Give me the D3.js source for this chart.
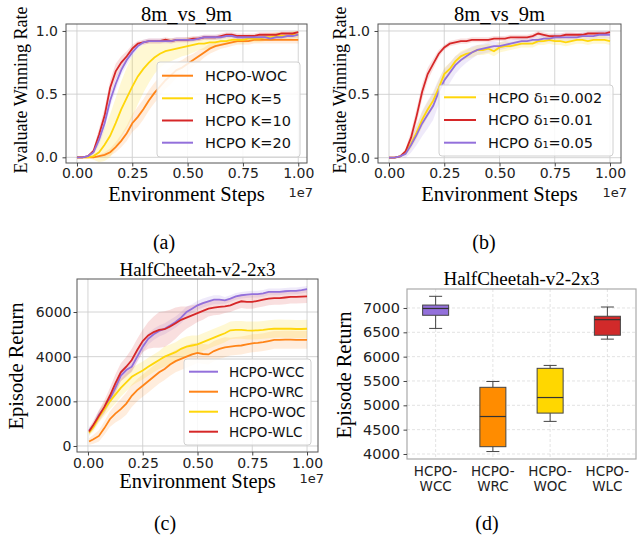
<!DOCTYPE html>
<html>
<head>
<meta charset="utf-8">
<script src="https://cdn.jsdelivr.net/npm/d3@7"></script>
<style>
  body { margin: 0; background: #fff; }
</style>
</head>
<body>
<div id="chart"></div>
<script>
// x grid (in units of 1e7 environment steps)
const stepsAB = [0,0.025,0.05,0.075,0.1,0.125,0.15,0.175,0.2,0.225,0.25,0.275,0.3,0.325,0.35,0.375,0.4,0.425,0.45,0.475,
  0.5,0.525,0.55,0.575,0.6,0.625,0.65,0.675,0.7,0.725,0.75,0.775,0.8,0.825,0.85,0.875,0.9,0.925,0.95,0.975,1.0]
const stepsC = [0.005,0.025,0.05,0.075,0.1,0.125,0.15,0.175,0.2,0.225,0.25,0.275,0.3,0.325,0.35,0.375,0.4,0.425,0.45,0.475,
  0.5,0.525,0.55,0.575,0.6,0.625,0.65,0.675,0.7,0.725,0.75,0.775,0.8,0.825,0.85,0.875,0.9,0.925,0.95,0.975,1.0]

// (a) 8m_vs_9m, number of K
const wocA = [0,0,0,0,0.01, 0.02,0.04,0.08,0.13,0.19, 0.27,0.32,0.38,0.45,0.51, 0.56,0.61,0.65,0.69,0.71,
  0.74,0.77,0.8,0.83,0.86, 0.88,0.89,0.9,0.91,0.92, 0.92,0.92,0.93,0.93,0.93, 0.93,0.93,0.93,0.93,0.93, 0.93]
const k5A = [0,0,0,0.01,0.04, 0.1,0.17,0.27,0.38,0.47, 0.56,0.64,0.7,0.75,0.79, 0.82,0.84,0.85,0.86,0.87,
  0.88,0.89,0.9,0.9,0.91, 0.91,0.92,0.92,0.93,0.93, 0.93,0.94,0.94,0.94,0.95, 0.95,0.96,0.96,0.96,0.97, 0.97]
const k10A = [0,0,0.01,0.05,0.18, 0.33,0.55,0.68,0.75,0.8, 0.86,0.9,0.91,0.92,0.92, 0.92,0.93,0.92,0.93,0.93,
  0.93,0.94,0.94,0.95,0.95, 0.95,0.96,0.97,0.97,0.96, 0.96,0.96,0.96,0.97,0.97, 0.97,0.97,0.98,0.98,0.98, 0.99]
const k20A = [0,0,0.01,0.04,0.14, 0.27,0.45,0.58,0.69,0.77, 0.83,0.88,0.91,0.92,0.92, 0.92,0.92,0.92,0.93,0.93,
  0.93,0.93,0.94,0.95,0.95, 0.95,0.95,0.96,0.96,0.95, 0.95,0.95,0.95,0.95,0.95, 0.94,0.95,0.95,0.96,0.96, 0.97]
const wocA_sd = [0,0,0,0,0.01, 0.02,0.03,0.04,0.05,0.06, 0.07,0.08,0.08,0.08,0.08, 0.08,0.07,0.07,0.06,0.06,
  0.06,0.05,0.05,0.04,0.04, 0.04,0.03,0.03,0.03,0.03, 0.03,0.03,0.03,0.03,0.03, 0.03,0.03,0.03,0.03,0.03, 0.03]
const k5A_sd = [0,0,0.005,0.03,0.08, 0.13,0.17,0.2,0.22,0.24, 0.24,0.22,0.19,0.16,0.13, 0.11,0.1,0.09,0.08,0.07,
  0.07,0.06,0.05,0.05,0.04, 0.04,0.04,0.03,0.03,0.03, 0.03,0.03,0.03,0.03,0.03, 0.03,0.03,0.03,0.03,0.03, 0.03]
const k10A_sd = [0,0,0.005,0.02,0.05, 0.06,0.06,0.06,0.05,0.04, 0.03,0.02,0.02,0.02,0.02, 0.02,0.02,0.02,0.02,0.02,
  0.02,0.02,0.02,0.02,0.02, 0.02,0.02,0.02,0.02,0.02, 0.02,0.02,0.02,0.02,0.02, 0.02,0.02,0.015,0.015,0.015, 0.01]
const k20A_sd = [0,0,0.005,0.02,0.04, 0.05,0.05,0.05,0.04,0.04, 0.03,0.02,0.02,0.02,0.02, 0.02,0.02,0.02,0.02,0.02,
  0.02,0.02,0.02,0.02,0.02, 0.02,0.02,0.02,0.02,0.02, 0.02,0.02,0.02,0.02,0.02, 0.02,0.02,0.02,0.02,0.02, 0.02]

// (b) 8m_vs_9m, delta_1
const d002B = [0,0,0.01,0.04,0.11, 0.2,0.3,0.38,0.45,0.55, 0.66,0.7,0.76,0.8,0.82, 0.83,0.85,0.85,0.86,0.84,
  0.87,0.88,0.88,0.89,0.9, 0.9,0.9,0.92,0.92,0.93, 0.92,0.92,0.91,0.92,0.93, 0.93,0.92,0.93,0.93,0.93, 0.92]
const d01B = [0,0,0.01,0.05,0.16, 0.33,0.52,0.66,0.74,0.82, 0.87,0.9,0.91,0.92,0.92, 0.93,0.93,0.93,0.93,0.94,
  0.94,0.94,0.95,0.95,0.95, 0.95,0.96,0.98,0.97,0.96, 0.96,0.96,0.97,0.97,0.97, 0.97,0.98,0.98,0.98,0.98, 0.99]
const d05B = [0,0,0.01,0.03,0.1, 0.18,0.27,0.34,0.41,0.52, 0.61,0.67,0.73,0.77,0.8, 0.83,0.85,0.86,0.87,0.88,
  0.88,0.89,0.9,0.91,0.92, 0.92,0.93,0.93,0.94,0.94, 0.95,0.95,0.95,0.95,0.95, 0.96,0.96,0.96,0.97,0.97, 0.97]
const d002B_sd = [0,0,0.005,0.02,0.04, 0.05,0.06,0.06,0.06,0.06, 0.05,0.05,0.04,0.04,0.04, 0.04,0.04,0.04,0.04,0.04,
  0.04,0.04,0.03,0.03,0.03, 0.03,0.03,0.03,0.03,0.03, 0.03,0.03,0.03,0.03,0.03, 0.03,0.03,0.03,0.03,0.03, 0.03]
const d01B_sd = [0,0,0.005,0.02,0.05, 0.06,0.06,0.05,0.04,0.03, 0.02,0.02,0.02,0.02,0.02, 0.02,0.02,0.02,0.02,0.02,
  0.02,0.02,0.02,0.02,0.02, 0.02,0.02,0.02,0.02,0.02, 0.02,0.02,0.02,0.02,0.015, 0.015,0.015,0.015,0.015,0.015, 0.01]
const d05B_sd = [0,0,0.005,0.03,0.06, 0.08,0.1,0.11,0.11,0.1, 0.09,0.08,0.07,0.06,0.05, 0.05,0.04,0.04,0.04,0.04,
  0.03,0.03,0.03,0.03,0.03, 0.03,0.03,0.03,0.03,0.03, 0.03,0.03,0.03,0.03,0.03, 0.03,0.03,0.03,0.03,0.03, 0.03]

// (c) HalfCheetah-v2-2x3 curves
const wccC = [700,900,1400,1700,2100, 2600,3150,3400,3550,4000, 4450,4800,5000,5150,5250, 5400,5550,5750,6000,6150,
  6300,6400,6480,6550,6550, 6520,6600,6700,6750,6780, 6800,6800,6830,6900,6900, 6900,6930,6950,6950,6980, 7020]
const wrcC = [200,300,450,800,1200, 1450,1650,1900,2250,2500, 2700,2900,3100,3300,3450, 3650,3800,3900,4000,4100,
  4170,4120,4100,4250,4350, 4420,4450,4480,4500,4550, 4600,4620,4650,4700,4750, 4750,4760,4760,4750,4750, 4750]
const wocC = [600,850,1300,1650,2000, 2300,2600,2850,3100,3250, 3380,3550,3700,3850,4000, 4100,4200,4350,4450,4500,
  4550,4650,4750,4850,4950, 5050,5180,5200,5200,5180, 5170,5180,5200,5230,5250, 5260,5250,5250,5240,5240, 5250]
const wlcC = [650,950,1350,1750,2250, 2800,3300,3550,3850,4300, 4700,4950,5100,5200,5230, 5350,5500,5650,5750,5850,
  5950,6050,6150,6200,6230, 6250,6300,6400,6480,6450, 6450,6500,6550,6600,6620, 6620,6650,6680,6680,6690, 6700]
const wccC_sd = [150,150,200,200,200, 250,250,250,250,250, 250,250,250,250,250, 250,250,250,250,200,
  200,200,200,200,200, 150,150,150,150,150, 150,150,150,150,150, 150,150,150,150,150, 150]
const wrcC_sd = [150,200,250,300,350, 400,450,500,500,500, 500,500,500,500,500, 500,500,500,500,500,
  450,450,450,450,450, 450,400,400,400,400, 400,400,400,400,400, 400,400,400,400,400, 400]
const wocC_sd = [150,200,250,300,350, 400,400,400,400,400, 400,400,400,400,450, 450,450,450,450,450,
  400,400,400,400,400, 400,400,400,400,400, 400,400,400,400,400, 400,400,400,400,400, 400]
const wlcC_sd = [150,200,250,300,350, 400,400,450,500,500, 500,600,700,800,800, 750,700,600,500,450,
  400,400,350,350,350, 300,300,300,300,300, 300,300,300,300,300, 300,300,300,300,300, 300]

// (d) final returns box plot
const boxNames = ['WCC', 'WRC', 'WOC', 'WLC']
const boxLow = [6580, 4050, 4670, 6360]
const boxQ1 = [6850, 4150, 4840, 6440]
const boxMed = [6990, 4770, 5160, 6760]
const boxQ3 = [7060, 5370, 5760, 6830]
const boxHigh = [7240, 5490, 5820, 7020]

const ORANGE = '#ff8418', GOLD = '#ffd60a', RED = '#d62728', PURPLE = '#9370db'
const boxColors = [PURPLE, '#ff8c00', '#ffd700', '#d12a2a']

const sans = '"DejaVu Sans", sans-serif'
const serif = '"Liberation Serif", "Times New Roman", serif'

const svg = d3.select('#chart').append('svg')
  .attr('width', 641).attr('height', 539)

function styleTicks(sel, size) {
  sel.select('.domain').remove()
  sel.selectAll('.tick line').attr('stroke', '#444')
  sel.selectAll('.tick text').attr('font-family', sans).attr('font-size', size).attr('fill', '#222')
}

function linePanel(cfg) {
  const x = d3.scaleLinear().domain(cfg.xDomain).range([cfg.left, cfg.right])
  const y = d3.scaleLinear().domain(cfg.yDomain).range([cfg.bottom, cfg.top])
  const g = svg.append('g')

  // grid
  g.append('g').selectAll('line').data(cfg.xTicks).join('line')
    .attr('x1', d => x(d)).attr('x2', d => x(d))
    .attr('y1', cfg.top).attr('y2', cfg.bottom)
    .attr('stroke', '#cfcfcf').attr('stroke-width', 0.9)
  g.append('g').selectAll('line').data(cfg.yTicks).join('line')
    .attr('x1', cfg.left).attr('x2', cfg.right)
    .attr('y1', d => y(d)).attr('y2', d => y(d))
    .attr('stroke', '#cfcfcf').attr('stroke-width', 0.9)

  const clipId = 'clip' + cfg.id
  svg.append('clipPath').attr('id', clipId).append('rect')
    .attr('x', cfg.left).attr('y', cfg.top)
    .attr('width', cfg.right - cfg.left).attr('height', cfg.bottom - cfg.top)

  const plot = g.append('g').attr('clip-path', `url(#${clipId})`)
  cfg.series.forEach(s => {
    const idx = d3.range(s.values.length)
    const area = d3.area()
      .x(i => x(cfg.steps[i]))
      .y0(i => y(s.values[i] - s.sd[i]))
      .y1(i => y(s.values[i] + s.sd[i]))
    plot.append('path').datum(idx)
      .attr('d', area)
      .attr('fill', s.color).attr('fill-opacity', s.bandOpacity || 0.15)
  })
  cfg.series.forEach(s => {
    const idx = d3.range(s.values.length)
    const line = d3.line().x(i => x(cfg.steps[i])).y(i => y(s.values[i]))
    plot.append('path').datum(idx)
      .attr('d', line)
      .attr('fill', 'none').attr('stroke', s.color).attr('stroke-width', 1.8)
  })

  // spines
  g.append('rect')
    .attr('x', cfg.left).attr('y', cfg.top)
    .attr('width', cfg.right - cfg.left).attr('height', cfg.bottom - cfg.top)
    .attr('fill', 'none').attr('stroke', '#555').attr('stroke-width', 1)

  g.append('g').attr('transform', `translate(0,${cfg.bottom})`)
    .call(d3.axisBottom(x).tickValues(cfg.xTicks).tickFormat(d3.format('.2f')).tickSize(3.5).tickPadding(cfg.xPad))
    .call(s => styleTicks(s, 14))
  g.append('g').attr('transform', `translate(${cfg.left},0)`)
    .call(d3.axisLeft(y).tickValues(cfg.yTicks).tickFormat(cfg.yFormat).tickSize(3.5).tickPadding(cfg.yPad))
    .call(s => styleTicks(s, 14))

  const cx = (cfg.left + cfg.right) / 2
  g.append('text').attr('x', cx).attr('y', cfg.titleY)
    .attr('text-anchor', 'middle').attr('font-family', serif).attr('font-size', cfg.titleSize)
    .text(cfg.title)
  g.append('text').attr('x', cx).attr('y', cfg.xLabelY)
    .attr('text-anchor', 'middle').attr('font-family', serif).attr('font-size', cfg.xLabelSize)
    .text('Environment Steps')
  g.append('text').attr('x', cfg.right + 6).attr('y', cfg.offsetY)
    .attr('text-anchor', 'end').attr('font-family', sans).attr('font-size', 13).attr('fill', '#222')
    .text('1e7')
  g.append('text')
    .attr('transform', `translate(${cfg.yLabelX},${cfg.yLabelCY}) rotate(-90)`)
    .attr('text-anchor', 'middle').attr('font-family', serif).attr('font-size', cfg.yLabelSize)
    .text(cfg.yLabel)

  // legend
  const L = cfg.legend
  g.append('rect').attr('x', L.x).attr('y', L.y).attr('width', L.w).attr('height', L.h)
    .attr('rx', 3).attr('fill', 'white').attr('fill-opacity', 0.85)
    .attr('stroke', '#d0d0d0').attr('stroke-width', 1)
  L.items.forEach((s, i) => {
    const ry = L.rows[i]
    g.append('line').attr('x1', L.lx0).attr('x2', L.lx1).attr('y1', ry).attr('y2', ry)
      .attr('stroke', s.color).attr('stroke-width', 2)
    g.append('text').attr('x', L.tx).attr('y', ry).attr('dy', '0.36em')
      .attr('font-family', sans).attr('font-size', L.size).attr('fill', '#111')
      .text(s.label)
  })
}

const ticks01 = [0, 0.25, 0.5, 0.75, 1.0]
const seriesA = [
  {label: 'HCPO-WOC', color: ORANGE, values: wocA, sd: wocA_sd},
  {label: 'HCPO K=5', color: GOLD, values: k5A, sd: k5A_sd, bandOpacity: 0.18},
  {label: 'HCPO K=10', color: RED, values: k10A, sd: k10A_sd},
  {label: 'HCPO K=20', color: PURPLE, values: k20A, sd: k20A_sd}
]
linePanel({
  id: 'a', left: 66, right: 307, top: 24, bottom: 163,
  xDomain: [-0.0495, 1.0395], yDomain: [-0.045, 1.055],
  steps: stepsAB, series: seriesA,
  xTicks: ticks01, yTicks: [0, 0.5, 1.0], yFormat: d3.format('.1f'), xPad: 1.5, yPad: 4.5,
  title: '8m_vs_9m', titleY: 21, titleSize: 20.5,
  xLabelY: 201, xLabelSize: 20.5, offsetY: 197,
  yLabel: 'Evaluate Winning Rate', yLabelX: 27, yLabelCY: 90, yLabelSize: 18,
  legend: {x: 157, y: 62, w: 143, h: 95, rows: [75.7, 98.3, 120.5, 142.7],
    lx0: 162, lx1: 193, tx: 205, size: 14.5, items: seriesA}
})

const seriesB = [
  {label: 'HCPO δ₁=0.002', color: GOLD, values: d002B, sd: d002B_sd, bandOpacity: 0.18},
  {label: 'HCPO δ₁=0.01', color: RED, values: d01B, sd: d01B_sd},
  {label: 'HCPO δ₁=0.05', color: PURPLE, values: d05B, sd: d05B_sd}
]
linePanel({
  id: 'b', left: 378, right: 621, top: 24, bottom: 163,
  xDomain: [-0.0498, 1.0498], yDomain: [-0.042, 1.055],
  steps: stepsAB, series: seriesB,
  xTicks: ticks01, yTicks: [0, 0.5, 1.0], yFormat: d3.format('.1f'), xPad: 1.5, yPad: 4.5,
  title: '8m_vs_9m', titleY: 21, titleSize: 20.5,
  xLabelY: 201, xLabelSize: 20.5, offsetY: 197,
  yLabel: 'Evaluate Winning Rate', yLabelX: 346, yLabelCY: 90, yLabelSize: 18,
  legend: {x: 439, y: 85, w: 174, h: 71, rows: [97.3, 120, 142.7],
    lx0: 444, lx1: 476, tx: 488, size: 14.5, items: seriesB}
})

const seriesC = [
  {label: 'HCPO-WCC', color: PURPLE, values: wccC, sd: wccC_sd},
  {label: 'HCPO-WRC', color: ORANGE, values: wrcC, sd: wrcC_sd},
  {label: 'HCPO-WOC', color: GOLD, values: wocC, sd: wocC_sd, bandOpacity: 0.18},
  {label: 'HCPO-WLC', color: RED, values: wlcC, sd: wlcC_sd}
]
linePanel({
  id: 'c', left: 77, right: 318, top: 279, bottom: 452,
  xDomain: [-0.05, 1.05], yDomain: [-269, 7478],
  steps: stepsC, series: seriesC,
  xTicks: ticks01, yTicks: [0, 2000, 4000, 6000], yFormat: d3.format('d'), xPad: 2.5, yPad: 2,
  title: 'HalfCheetah-v2-2x3', titleY: 276, titleSize: 19,
  xLabelY: 488, xLabelSize: 20.5, offsetY: 483,
  yLabel: 'Episode Return', yLabelX: 23, yLabelCY: 366, yLabelSize: 20.5,
  legend: {x: 184, y: 359, w: 127, h: 86, rows: [371.7, 391.7, 411.7, 431.7],
    lx0: 189, lx1: 218, tx: 229, size: 13.5, items: seriesC}
})

// (d) box plot
{
  const left = 407, right = 636, top = 289, bottom = 459
  const x = d3.scaleBand().domain(boxNames).range([left, right])
  const y = d3.scaleLinear().domain([3897, 7390]).range([bottom, top])
  const yTicks = [4000, 4500, 5000, 5500, 6000, 6500, 7000]
  const g = svg.append('g')

  g.append('g').selectAll('line').data(yTicks).join('line')
    .attr('x1', left).attr('x2', right).attr('y1', d => y(d)).attr('y2', d => y(d))
    .attr('stroke', '#dcdcdc').attr('stroke-dasharray', '3,2').attr('stroke-width', 0.8)
  g.append('g').selectAll('line').data(boxNames).join('line')
    .attr('x1', d => x(d) + x.bandwidth() / 2).attr('x2', d => x(d) + x.bandwidth() / 2)
    .attr('y1', top).attr('y2', bottom)
    .attr('stroke', '#dcdcdc').attr('stroke-dasharray', '3,2').attr('stroke-width', 0.8)

  const bw = 26, cap = 13
  boxNames.forEach((name, i) => {
    const cx = x(name) + x.bandwidth() / 2
    g.append('line').attr('x1', cx).attr('x2', cx).attr('y1', y(boxHigh[i])).attr('y2', y(boxQ3[i]))
      .attr('stroke', '#444').attr('stroke-width', 1)
    g.append('line').attr('x1', cx).attr('x2', cx).attr('y1', y(boxQ1[i])).attr('y2', y(boxLow[i]))
      .attr('stroke', '#444').attr('stroke-width', 1)
    g.append('line').attr('x1', cx - cap / 2).attr('x2', cx + cap / 2).attr('y1', y(boxHigh[i])).attr('y2', y(boxHigh[i]))
      .attr('stroke', '#444').attr('stroke-width', 1)
    g.append('line').attr('x1', cx - cap / 2).attr('x2', cx + cap / 2).attr('y1', y(boxLow[i])).attr('y2', y(boxLow[i]))
      .attr('stroke', '#444').attr('stroke-width', 1)
    g.append('rect').attr('x', cx - bw / 2).attr('width', bw)
      .attr('y', y(boxQ3[i])).attr('height', y(boxQ1[i]) - y(boxQ3[i]))
      .attr('fill', boxColors[i]).attr('stroke', '#444').attr('stroke-width', 1)
    g.append('line').attr('x1', cx - bw / 2).attr('x2', cx + bw / 2).attr('y1', y(boxMed[i])).attr('y2', y(boxMed[i]))
      .attr('stroke', '#333').attr('stroke-width', 1.2)
  })

  g.append('rect').attr('x', left).attr('y', top).attr('width', right - left).attr('height', bottom - top)
    .attr('fill', 'none').attr('stroke', '#aaa').attr('stroke-width', 1.2)

  g.append('g').attr('transform', `translate(${left},0)`)
    .call(d3.axisLeft(y).tickValues(yTicks).tickFormat(d3.format('d')).tickSize(3.5).tickPadding(3.5))
    .call(s => styleTicks(s, 14.5))
  const xa = g.append('g').attr('transform', `translate(0,${bottom})`)
    .call(d3.axisBottom(x).tickSize(0).tickFormat(''))
  xa.select('.domain').remove()
  xa.selectAll('.tick').each(function(d) {
    const t = d3.select(this).append('text').attr('font-family', sans).attr('font-size', 13.5)
      .attr('fill', '#222').attr('text-anchor', 'middle')
    t.append('tspan').attr('x', 0).attr('y', 17).text('HCPO-')
    t.append('tspan').attr('x', 0).attr('y', 32).text(d)
  })

  g.append('text').attr('x', (left + right) / 2).attr('y', 285)
    .attr('text-anchor', 'middle').attr('font-family', serif).attr('font-size', 19)
    .text('HalfCheetah-v2-2x3')
  g.append('text').attr('transform', `translate(351,375) rotate(-90)`)
    .attr('text-anchor', 'middle').attr('font-family', serif).attr('font-size', 20.5)
    .text('Episode Return')
}

// sub-figure captions
const captions = [['(a)', 164, 249], ['(b)', 484, 249], ['(c)', 165, 530], ['(d)', 487, 530]]
svg.selectAll('text.cap').data(captions).join('text')
  .attr('class', 'cap')
  .attr('x', d => d[1]).attr('y', d => d[2])
  .attr('text-anchor', 'middle').attr('font-family', serif).attr('font-size', 20)
  .text(d => d[0])
</script>
</body>
</html>
